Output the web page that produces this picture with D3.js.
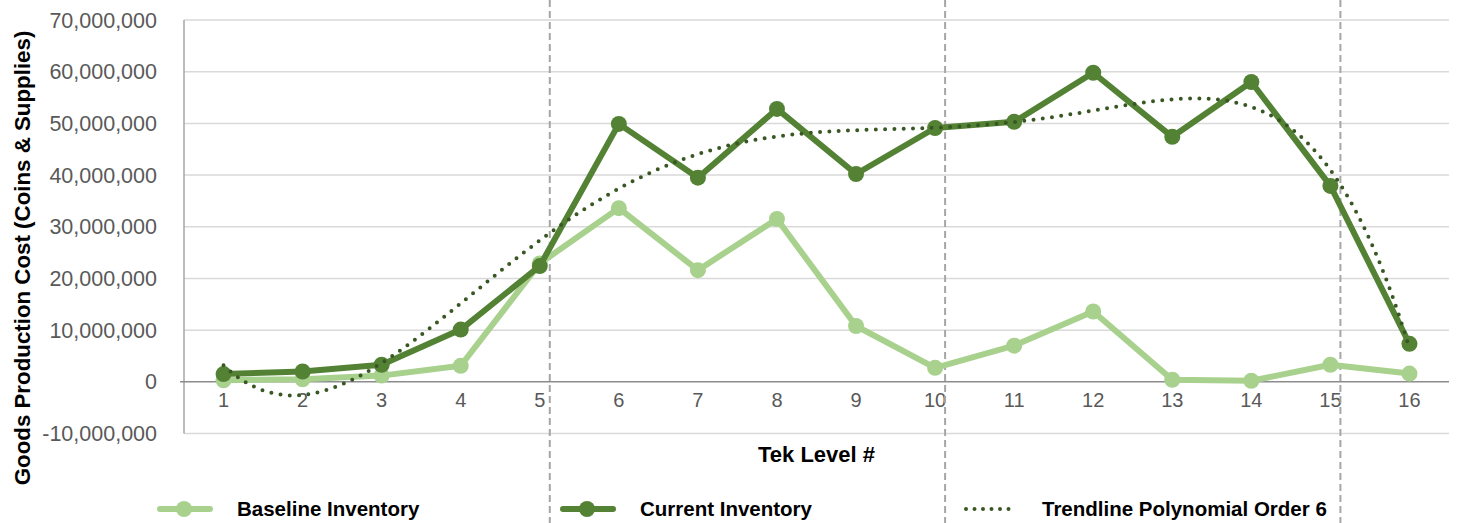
<!DOCTYPE html>
<html>
<head>
<meta charset="utf-8">
<script src="https://cdn.jsdelivr.net/npm/d3@7"></script>
<style>
  body { margin: 0; background: #fff; }
  text { font-family: "Liberation Sans", Arial, sans-serif; }
</style>
</head>
<body>
<div id="chart"></div>
<script>
// Tek levels on the x axis
var levels = [1, 2, 3, 4, 5, 6, 7, 8, 9, 10, 11, 12, 13, 14, 15, 16];
// Goods production cost per level
var baseline = [300000, 500000, 1200000, 3100000, 22900000, 33600000, 21600000, 31500000,
                10800000, 2700000, 7000000, 13600000, 400000, 200000, 3300000, 1600000];
var current = [1500000, 2000000, 3300000, 10100000, 22400000, 49900000, 39500000, 52800000,
               40200000, 49100000, 50300000, 59800000, 47400000, 58000000, 37900000, 7350000];
var yTicks = [-10000000, 0, 10000000, 20000000, 30000000, 40000000, 50000000, 60000000, 70000000];
var dividers = [5, 10, 15];   // dashed separators drawn just right of these levels

var W = 1457, H = 523,
    plotL = 184, plotR = 1449, plotT = 20, plotB = 433.5;

var colBase = "#A9D18E", colCur = "#548235", colTrend = "#385723";

var svg = d3.select("#chart").append("svg")
    .attr("width", W).attr("height", H);

var x = d3.scalePoint().domain(levels).range([plotL, plotR]).padding(0.5);
var y = d3.scaleLinear().domain([-10000000, 70000000]).range([plotB, plotT]);
var fmt = function(d) { return d3.format(",")(d).replace("\u2212", "-"); };

// gridlines
svg.append("g").selectAll("line")
    .data(yTicks.filter(function(d) { return d !== 0; }))
    .enter().append("line")
    .attr("x1", plotL).attr("x2", plotR)
    .attr("y1", function(d) { return y(d); }).attr("y2", function(d) { return y(d); })
    .attr("stroke", "#D9D9D9").attr("stroke-width", 1.5);

// y axis line + zero line
svg.append("line").attr("x1", plotL).attr("x2", plotL).attr("y1", plotT).attr("y2", plotB)
    .attr("stroke", "#A6A6A6").attr("stroke-width", 1.5);
svg.append("line").attr("x1", plotL - 4).attr("x2", plotR).attr("y1", y(0)).attr("y2", y(0))
    .attr("stroke", "#8C8C8C").attr("stroke-width", 1.5);

// y tick labels
svg.append("g").selectAll("text")
    .data(yTicks).enter().append("text")
    .attr("x", 157).attr("y", function(d) { return y(d); })
    .attr("dy", "0.35em").attr("text-anchor", "end")
    .attr("fill", "#595959").style("font-size", "21.5px")
    .text(function(d) { return fmt(d); });

// x tick labels
svg.append("g").selectAll("text")
    .data(levels).enter().append("text")
    .attr("x", function(d) { return x(d); }).attr("y", y(0) + 18)
    .attr("dy", "0.35em").attr("text-anchor", "middle")
    .attr("fill", "#595959").style("font-size", "20px")
    .text(function(d) { return d; });

// axis titles
svg.append("text")
    .attr("transform", "translate(30," + 258 + ") rotate(-90)")
    .attr("text-anchor", "middle").style("font-size", "22.3px").style("font-weight", "bold")
    .text("Goods Production Cost (Coins & Supplies)");
svg.append("text")
    .attr("x", (plotL + plotR) / 2).attr("y", 462)
    .attr("text-anchor", "middle").style("font-size", "22px").style("font-weight", "bold")
    .text("Tek Level #");

// dashed separators (run full height)
svg.append("g").selectAll("line")
    .data(dividers).enter().append("line")
    .attr("x1", function(d) { return x(d) + 10; }).attr("x2", function(d) { return x(d) + 10; })
    .attr("y1", 0).attr("y2", H)
    .attr("stroke", "#A6A6A6").attr("stroke-width", 2).attr("stroke-dasharray", "7,4");

// polynomial (order 6) least-squares trendline of the current inventory
function polyFit(xs, ys, order) {
    var n = order + 1, A = [], b = [];
    for (var i = 0; i < n; i++) {
        A.push(new Array(n).fill(0)); b.push(0);
    }
    xs.forEach(function(xv, k) {
        for (var i = 0; i < n; i++) {
            b[i] += Math.pow(xv, i) * ys[k];
            for (var j = 0; j < n; j++) A[i][j] += Math.pow(xv, i + j);
        }
    });
    // gaussian elimination
    for (var c = 0; c < n; c++) {
        var p = c;
        for (var r = c + 1; r < n; r++) if (Math.abs(A[r][c]) > Math.abs(A[p][c])) p = r;
        var t = A[c]; A[c] = A[p]; A[p] = t; var tb = b[c]; b[c] = b[p]; b[p] = tb;
        for (var r2 = c + 1; r2 < n; r2++) {
            var f = A[r2][c] / A[c][c];
            for (var j2 = c; j2 < n; j2++) A[r2][j2] -= f * A[c][j2];
            b[r2] -= f * b[c];
        }
    }
    var coef = new Array(n).fill(0);
    for (var i2 = n - 1; i2 >= 0; i2--) {
        var s = b[i2];
        for (var j3 = i2 + 1; j3 < n; j3++) s -= A[i2][j3] * coef[j3];
        coef[i2] = s / A[i2][i2];
    }
    return coef;
}
var norm = function(v) { return (v - 8.5) / 7.5; };
var coef = polyFit(levels.map(norm), current, 6);
var trend = d3.range(1, 16.001, 0.05).map(function(v) {
    var u = norm(v), s = 0;
    coef.forEach(function(c, i) { s += c * Math.pow(u, i); });
    return [v, s];
});
var xc = d3.scaleLinear().domain([1, 16]).range([x(1), x(16)]);

var line = d3.line()
    .x(function(d, i) { return x(levels[i]); })
    .y(function(d) { return y(d); });

// baseline series
svg.append("path").datum(baseline).attr("d", line)
    .attr("fill", "none").attr("stroke", colBase).attr("stroke-width", 6)
    .attr("stroke-linejoin", "round");
svg.append("g").selectAll("circle").data(baseline).enter().append("circle")
    .attr("cx", function(d, i) { return x(levels[i]); }).attr("cy", function(d) { return y(d); })
    .attr("r", 8).attr("fill", colBase);

// current series
svg.append("path").datum(current).attr("d", line)
    .attr("fill", "none").attr("stroke", colCur).attr("stroke-width", 6)
    .attr("stroke-linejoin", "round");
svg.append("g").selectAll("circle").data(current).enter().append("circle")
    .attr("cx", function(d, i) { return x(levels[i]); }).attr("cy", function(d) { return y(d); })
    .attr("r", 8).attr("fill", colCur);

// trendline
svg.append("path").datum(trend)
    .attr("d", d3.line().x(function(d) { return xc(d[0]); }).y(function(d) { return y(d[1]); }))
    .attr("fill", "none").attr("stroke", colTrend).attr("stroke-width", 4)
    .attr("stroke-linecap", "round").attr("stroke-dasharray", "0,9.3");

// legend
var legend = [
    { name: "Baseline Inventory", color: colBase, x0: 160, marker: true },
    { name: "Current Inventory", color: colCur, x0: 563, marker: true },
    { name: "Trendline Polynomial Order 6", color: colTrend, x0: 966, marker: false }
];
var ly = 509;
var lg = svg.append("g").selectAll("g").data(legend).enter().append("g");
lg.append("line")
    .attr("x1", function(d) { return d.x0; }).attr("x2", function(d) { return d.x0 + 50; })
    .attr("y1", ly).attr("y2", ly)
    .attr("stroke", function(d) { return d.color; })
    .attr("stroke-width", function(d) { return d.marker ? 6 : 4; })
    .attr("stroke-linecap", "round")
    .attr("stroke-dasharray", function(d) { return d.marker ? null : "0,8.5"; });
lg.filter(function(d) { return d.marker; }).append("circle")
    .attr("cx", function(d) { return d.x0 + 24; }).attr("cy", ly).attr("r", 8)
    .attr("fill", function(d) { return d.color; });
lg.append("text")
    .attr("x", function(d) { return d.x0 + (d.marker ? 77 : 76); }).attr("y", ly)
    .attr("dy", "0.35em").style("font-size", "20.5px").style("font-weight", "bold")
    .text(function(d) { return d.name; });
</script>
</body>
</html>
